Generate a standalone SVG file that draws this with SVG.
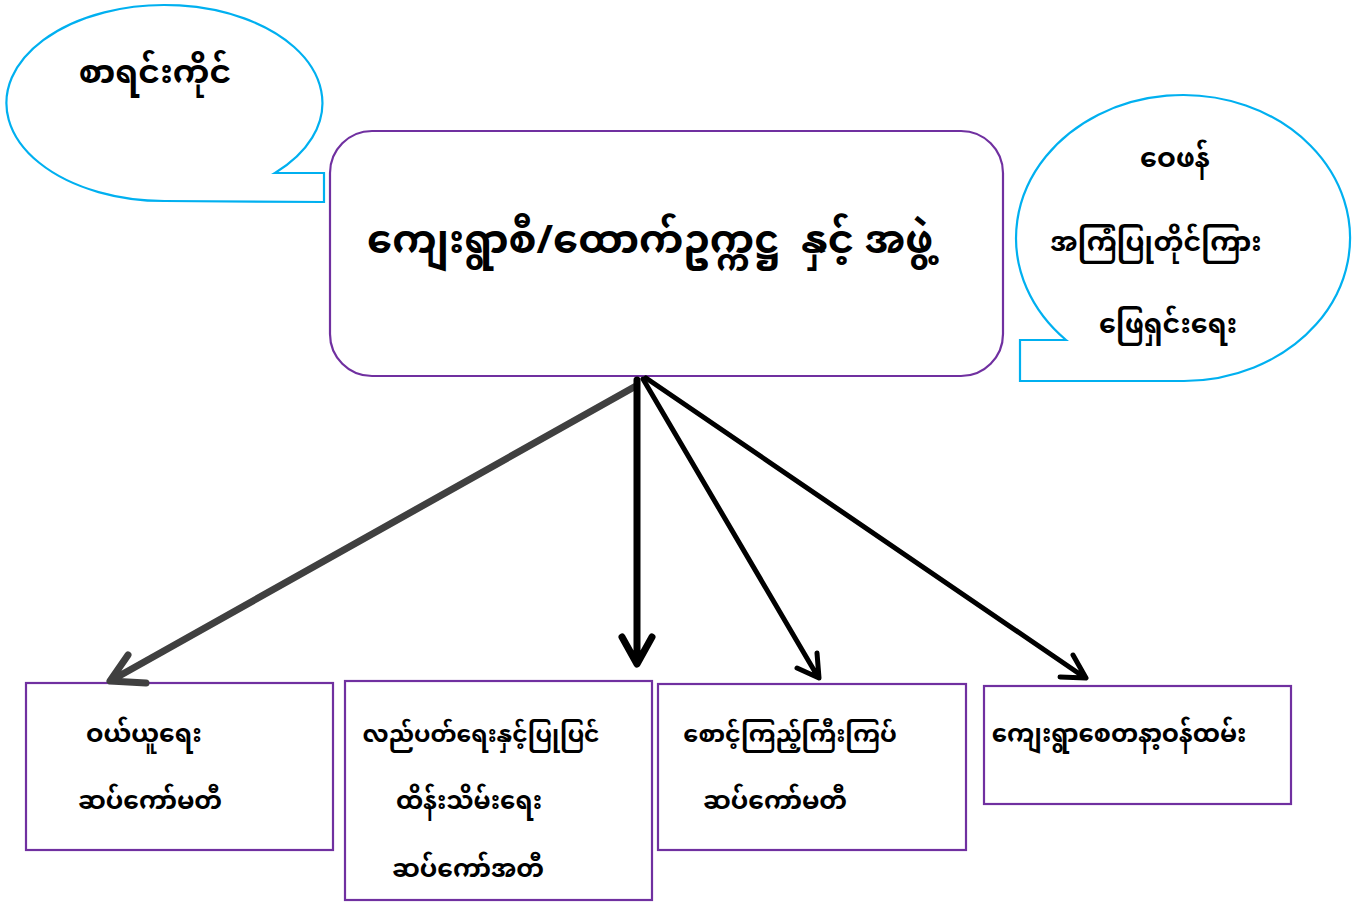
<svg xmlns="http://www.w3.org/2000/svg" width="1355" height="902" viewBox="0 0 1355 902">
<defs>
<style>
.t{font-family:"Noto Sans Myanmar","Padauk","Myanmar Text","Pyidaungsu","Noto Sans",sans-serif;font-weight:bold;fill:#000}
.call{fill:#fff;stroke:#00B0F0;stroke-width:2.2}
.box{fill:#fff;stroke:#7030A0;stroke-width:2.2}
.arr{fill:none;stroke-linecap:round;stroke-linejoin:round}
</style>
</defs>
<rect width="1355" height="902" fill="#fff"/>
<g id="callout-accountant">
<path class="call" d="M275,173 L324,173 L324,202 L165,201 A158,98 0 1 1 275,173 Z"/>
<text class="t" x="155" y="83" font-size="33" text-anchor="middle">စာရင်းကိုင်</text>
</g>
<g id="callout-feedback">
<path class="call" d="M1066,340 L1020,340 L1020,381 L1184,381 A167,143 0 1 0 1066,340 Z"/>
<text class="t" x="1175" y="167" font-size="27" text-anchor="middle">ဝေဖန်</text>
<text class="t" x="1156" y="251" font-size="27" text-anchor="middle">အကြံပြုတိုင်ကြား</text>
<text class="t" x="1168" y="333" font-size="27" text-anchor="middle">ဖြေရှင်းရေး</text>
</g>
<g id="main">
<rect class="box" x="330" y="131" width="673" height="245" rx="42"/>
<text class="t" x="650" y="253" font-size="40" text-anchor="middle" xml:space="preserve">ကျေးရွာစီ/ထောက်ဥက္ကဋ္ဌ  နှင့် အဖွဲ့</text>
</g>
<g id="box-purchase">
<rect class="box" x="26" y="683" width="307" height="167"/>
<text class="t" x="144" y="742" font-size="25" text-anchor="middle">ဝယ်ယူရေး</text>
<text class="t" x="150" y="809" font-size="25" text-anchor="middle">ဆပ်ကော်မတီ</text>
</g>
<g id="box-operation">
<rect class="box" x="345" y="681" width="307" height="219"/>
<text class="t" x="481" y="742" font-size="23.5" text-anchor="middle">လည်ပတ်ရေးနှင့်ပြုပြင်</text>
<text class="t" x="469" y="809" font-size="24.5" text-anchor="middle">ထိန်းသိမ်းရေး</text>
<text class="t" x="468" y="877" font-size="25" text-anchor="middle">ဆပ်ကော်အတီ</text>
</g>
<g id="box-monitor">
<rect class="box" x="658" y="684" width="308" height="166"/>
<text class="t" x="790" y="742" font-size="24" text-anchor="middle">စောင့်ကြည့်ကြီးကြပ်</text>
<text class="t" x="775" y="809" font-size="25" text-anchor="middle">ဆပ်ကော်မတီ</text>
</g>
<g id="box-volunteer">
<rect class="box" x="984" y="686" width="307" height="118"/>
<text class="t" x="1119" y="742" font-size="24.5" text-anchor="middle">ကျေးရွာစေတနာ့ဝန်ထမ်း</text>
</g>
<g id="connectors">
<path class="arr" stroke="#404040" stroke-width="7" d="M636,386 L112,680 M128,655 L110,681 L146,683"/>
<path class="arr" stroke="#000" stroke-width="7" d="M637,380 L637,662 M622,637 L637,664 L652,637"/>
<path class="arr" stroke="#000" stroke-width="5" d="M643,379 L818,677 M817,653 L819,678 L797,668"/>
<path class="arr" stroke="#000" stroke-width="5" d="M646,378 L1084,677 M1073,655 L1086,678 L1060,677"/>
</g>
</svg>
